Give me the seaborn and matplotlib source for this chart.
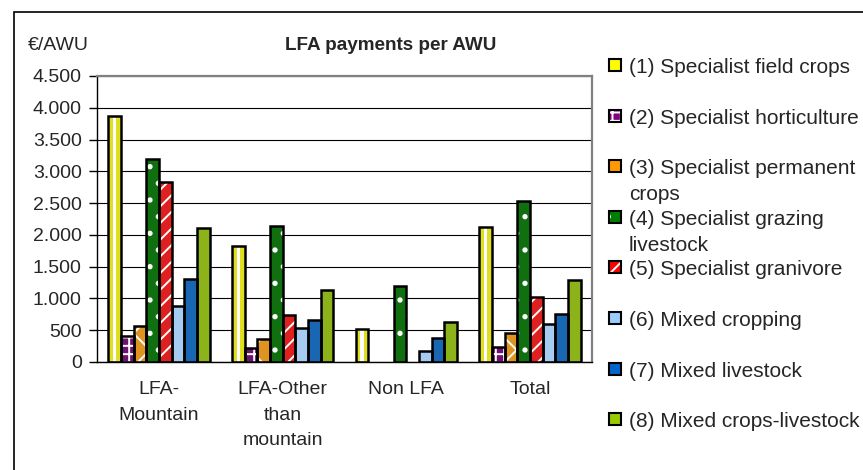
import pandas as pd
import numpy as np
import matplotlib.pyplot as plt
import seaborn as sns
from matplotlib.patches import Rectangle
from matplotlib.ticker import FuncFormatter, FixedLocator

sns.set_style("white")
plt.rcParams['font.family'] = ['Liberation Sans', 'DejaVu Sans']
plt.rcParams['hatch.linewidth'] = 1.4

# data (EUR per AWU)
zones = ["LFA-\nMountain", "LFA-Other\nthan\nmountain", "Non LFA", "Total"]
types = ["(1) Specialist field crops", "(2) Specialist horticulture",
         "(3) Specialist permanent\ncrops", "(4) Specialist grazing\nlivestock",
         "(5) Specialist granivore", "(6) Mixed cropping",
         "(7) Mixed livestock", "(8) Mixed crops-livestock"]
field_crops = [3870, 1830, 520, 2120]
horticulture = [410, 220, 0, 235]
permanent = [565, 360, 0, 455]
grazing = [3195, 2140, 1195, 2540]
granivore = [2835, 735, 0, 1025]
mixed_cropping = [885, 535, 170, 595]
mixed_livestock = [1300, 655, 370, 760]
mixed_crops_livestock = [2110, 1130, 630, 1290]

series = [field_crops, horticulture, permanent, grazing, granivore,
          mixed_cropping, mixed_livestock, mixed_crops_livestock]
colors = ["#FFFF00", "#800080", "#FF9900", "#008000", "#FF0000",
          "#99CCFF", "#0066CC", "#99CC00"]
hatches = ["", "++", "x", ".", "//", "", "", ""]

df = pd.DataFrame([(z, t, v[i]) for t, v in zip(types, series)
                   for i, z in enumerate(zones)], columns=["zone", "type", "value"])

fig = plt.figure(figsize=(8.63, 4.70), dpi=100)
ax = fig.add_axes([97 / 863, 1 - 362 / 470, (592 - 97) / 863, (362 - 76) / 470])

sns.barplot(data=df, x="zone", y="value", hue="type", order=zones, hue_order=types,
            palette=colors, width=0.82, gap=0, linewidth=0, legend=False, ax=ax)
for cont, h in zip(ax.containers, hatches):
    for p in cont:
        p.set_edgecolor("white")
        p.set_hatch(h)
        p.set_linewidth(0)

# white centre stripe on the field crops bars
for p in ax.containers[0]:
    ax.add_patch(Rectangle((p.get_x() + p.get_width() * 0.38, 0), p.get_width() * 0.24,
                           p.get_height(), facecolor="white", linewidth=0, zorder=2.5))

n_fill = len(ax.patches)
sns.barplot(data=df, x="zone", y="value", hue="type", order=zones, hue_order=types,
            palette=colors, width=0.82, gap=0, fill=False, linewidth=1.8,
            legend=False, ax=ax)
for p in ax.patches[n_fill:]:
    p.set_edgecolor("black")
    p.set_zorder(3)
    if p.get_height() == 0:
        p.set_visible(False)

ax.set_xlim(-0.5, 3.5)
ax.set_ylim(0, 4500)
ax.set_yticks(np.arange(0, 4501, 500))
ax.yaxis.set_major_formatter(FuncFormatter(lambda v, _: f"{int(v):,}".replace(",", ".")))
ax.set_xlabel("")
ax.set_ylabel("")
ax.xaxis.set_minor_locator(FixedLocator(np.arange(-0.5, 4, 1)))
ax.tick_params(axis="x", which="major", length=0, pad=14, labelsize=14)
ax.tick_params(axis="x", which="minor", length=6, width=1, color="black", direction="out")
ax.tick_params(axis="y", length=6, width=1, color="black", direction="out", pad=5,
               labelsize=14, left=True)
for lbl in ax.get_xticklabels():
    lbl.set_linespacing(1.65)
ax.set_axisbelow(True)
ax.yaxis.grid(True, color="black", linewidth=0.8)
ax.xaxis.grid(False)
for s in ["left", "bottom"]:
    ax.spines[s].set_color("black")
    ax.spines[s].set_linewidth(1)
for s in ["top", "right"]:
    ax.spines[s].set_color("#808080")
    ax.spines[s].set_linewidth(1.6)

fig.text(391 / 863, 1 - 45 / 470, "LFA payments per AWU", ha="center", va="center",
         fontsize=13.6, fontweight="bold")
fig.text(28 / 863, 1 - 45 / 470, "€/AWU", ha="left", va="center", fontsize=14)

# legend drawn by hand so that entries sit on an even grid
for i, (lab, c, h) in enumerate(zip(types, colors, hatches)):
    yc = 65 + i * 50.6
    fig.patches.append(Rectangle((609 / 863, 1 - (yc + 6) / 470), 12 / 863, 12 / 470,
                                 transform=fig.transFigure, facecolor=c, edgecolor="white",
                                 hatch=h, linewidth=0))
    fig.patches.append(Rectangle((609 / 863, 1 - (yc + 6) / 470), 12 / 863, 12 / 470,
                                 transform=fig.transFigure, fill=False, edgecolor="black",
                                 linewidth=1.5))
    fig.text(629 / 863, 1 - (yc - 7) / 470, lab, ha="left", va="top", fontsize=15,
             linespacing=1.45)

# outer chart border
fig.patches.append(Rectangle((14 / 863, -0.1), 1.2, 1.1 - 12 / 470, transform=fig.transFigure,
                             fill=False, edgecolor="black", linewidth=1.2))

fig.savefig("out.png", dpi=100)
